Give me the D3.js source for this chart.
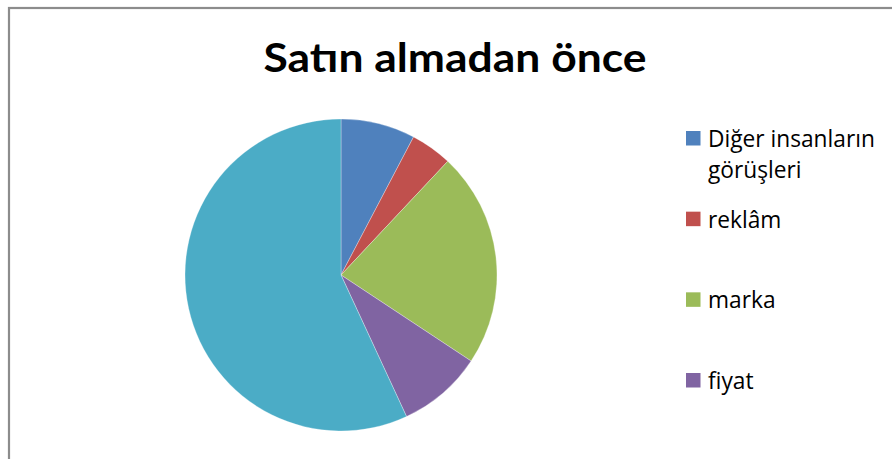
<!DOCTYPE html>
<html>
<head>
<meta charset="utf-8">
<script src="https://cdn.jsdelivr.net/npm/d3@7"></script>
<style>
  html, body { margin: 0; padding: 0; background: #fff; }
  svg { display: block; }
</style>
</head>
<body>
<svg id="chart" width="892" height="459"></svg>
<script>
// Share of each factor considered before buying (percent)
const title = "Satın almadan önce";
const categories = ["Diğer insanların görüşleri", "reklâm", "marka", "fiyat", ""];
const legendLines = [["Diğer insanların", "görüşleri"], ["reklâm"], ["marka"], ["fiyat"]];
const values = [7.7, 4.3, 22.3, 8.8, 56.9];
const colors = ["#4F81BD", "#C0504D", "#9BBB59", "#8064A2", "#4BACC6"];

const svg = d3.select("#chart");
const W = 892, H = 459;
const TITLE_FONT = "Lato, 'Open Sans', 'Liberation Sans', sans-serif";
const LEGEND_FONT = "'Open Sans', 'Noto Sans', 'Liberation Sans', sans-serif";

// chart area frame
svg.append("rect")
  .attr("x", 9).attr("y", 8)
  .attr("width", W + 20).attr("height", H + 20)
  .attr("fill", "#fff")
  .attr("stroke", "#8c8c8c")
  .attr("stroke-width", 2.2);

// title, fitted to its box width
const t = svg.append("text")
  .attr("x", 455).attr("y", 72)
  .attr("text-anchor", "middle")
  .attr("font-family", TITLE_FONT)
  .attr("font-weight", "bold")
  .attr("font-size", 41)
  .attr("fill", "#000")
  .text(title);
const tw = t.node().getComputedTextLength();
if (Math.abs(tw - 383) > 4) t.attr("textLength", 383).attr("lengthAdjust", "spacingAndGlyphs");

// pie
const cx = 341, cy = 275, r = 156;
const color = d3.scaleOrdinal().domain(d3.range(values.length)).range(colors);
const pie = d3.pie().sort(null).value(d => d)(values);
const arc = d3.arc().innerRadius(0).outerRadius(r);

svg.append("g")
  .attr("transform", `translate(${cx},${cy})`)
  .selectAll("path")
  .data(pie)
  .join("path")
  .attr("d", arc)
  .attr("fill", (d, i) => color(i))
  .attr("stroke", "#ffffff")
  .attr("stroke-opacity", 0.5)
  .attr("stroke-width", 0.6);

// legend font size chosen so the widest line spans the legend box
const probe = svg.append("text")
  .attr("font-family", LEGEND_FONT).attr("font-size", 20)
  .text(legendLines[0][0]);
const legSize = 20 * 167 / probe.node().getComputedTextLength();
probe.remove();

const legY = d3.scaleLinear().domain([0, 3]).range([131, 373]);
const leg = svg.append("g");
legendLines.forEach((lines, i) => {
  const y = legY(i);
  leg.append("rect")
    .attr("x", 686).attr("y", y)
    .attr("width", 14.5).attr("height", 14.5)
    .attr("fill", color(i));
  const txt = leg.append("text")
    .attr("font-family", LEGEND_FONT)
    .attr("font-size", legSize)
    .attr("fill", "#000");
  lines.forEach((line, j) => {
    txt.append("tspan")
      .attr("x", 708)
      .attr("y", y + 16 + j * 30.5)
      .text(line);
  });
});
</script>
</body>
</html>
